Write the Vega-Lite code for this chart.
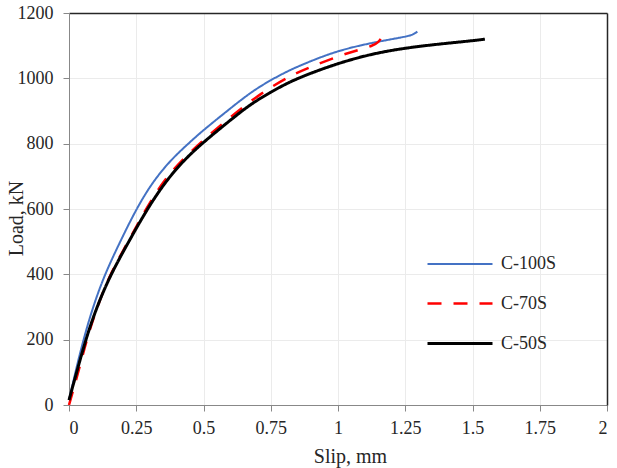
{
  "$schema": "https://vega.github.io/schema/vega-lite/v6.json",
  "description": "Load-slip curves for C-100S, C-70S and C-50S",
  "width": 538,
  "height": 392,
  "autosize": {"type": "none"},
  "padding": {"left": 69, "top": 13, "right": 10, "bottom": 63},
  "background": "white",
  "config": {
    "font": "Liberation Serif",
    "view": {"stroke": null},
    "axis": {
      "labelFont": "Liberation Serif",
      "titleFont": "Liberation Serif",
      "labelFontSize": 18,
      "titleFontSize": 20,
      "titleFontWeight": "normal",
      "labelColor": "#262626",
      "titleColor": "#262626",
      "domainColor": "#888888",
      "tickColor": "#888888",
      "gridColor": "#ebebeb",
      "tickSize": 6
    }
  },
  "data": {
    "values": [
      {"series": "C-100S", "slip": 0, "load": 15},
      {"series": "C-100S", "slip": 0.025, "load": 105},
      {"series": "C-100S", "slip": 0.052, "load": 195},
      {"series": "C-100S", "slip": 0.085, "load": 290},
      {"series": "C-100S", "slip": 0.13, "load": 395},
      {"series": "C-100S", "slip": 0.19, "load": 500},
      {"series": "C-100S", "slip": 0.25, "load": 600},
      {"series": "C-100S", "slip": 0.31, "load": 682},
      {"series": "C-100S", "slip": 0.38, "load": 752},
      {"series": "C-100S", "slip": 0.45, "load": 805},
      {"series": "C-100S", "slip": 0.5, "load": 842},
      {"series": "C-100S", "slip": 0.6, "load": 908},
      {"series": "C-100S", "slip": 0.675, "load": 957},
      {"series": "C-100S", "slip": 0.75, "load": 995},
      {"series": "C-100S", "slip": 0.822, "load": 1026},
      {"series": "C-100S", "slip": 0.896, "load": 1052},
      {"series": "C-100S", "slip": 1.0, "load": 1085},
      {"series": "C-100S", "slip": 1.131, "load": 1110},
      {"series": "C-100S", "slip": 1.25, "load": 1127},
      {"series": "C-100S", "slip": 1.28, "load": 1134},
      {"series": "C-100S", "slip": 1.295, "load": 1143},
      {"series": "C-70S", "slip": 0, "load": 0},
      {"series": "C-70S", "slip": 0.012, "load": 35},
      {"series": "C-70S", "slip": 0.036, "load": 105},
      {"series": "C-70S", "slip": 0.064, "load": 195},
      {"series": "C-70S", "slip": 0.102, "load": 295},
      {"series": "C-70S", "slip": 0.152, "load": 400},
      {"series": "C-70S", "slip": 0.22, "load": 500},
      {"series": "C-70S", "slip": 0.282, "load": 595},
      {"series": "C-70S", "slip": 0.35, "load": 685},
      {"series": "C-70S", "slip": 0.42, "load": 750},
      {"series": "C-70S", "slip": 0.5, "load": 812},
      {"series": "C-70S", "slip": 0.6, "load": 882},
      {"series": "C-70S", "slip": 0.714, "load": 955},
      {"series": "C-70S", "slip": 0.822, "load": 1008},
      {"series": "C-70S", "slip": 0.896, "load": 1034},
      {"series": "C-70S", "slip": 1.0, "load": 1068},
      {"series": "C-70S", "slip": 1.08, "load": 1088},
      {"series": "C-70S", "slip": 1.13, "load": 1100},
      {"series": "C-70S", "slip": 1.15, "load": 1110},
      {"series": "C-70S", "slip": 1.162, "load": 1125},
      {"series": "C-50S", "slip": 0, "load": 15},
      {"series": "C-50S", "slip": 0.03, "load": 105},
      {"series": "C-50S", "slip": 0.062, "load": 200},
      {"series": "C-50S", "slip": 0.103, "load": 300},
      {"series": "C-50S", "slip": 0.155, "load": 400},
      {"series": "C-50S", "slip": 0.222, "load": 500},
      {"series": "C-50S", "slip": 0.287, "load": 595},
      {"series": "C-50S", "slip": 0.355, "load": 680},
      {"series": "C-50S", "slip": 0.425, "load": 748},
      {"series": "C-50S", "slip": 0.5, "load": 805},
      {"series": "C-50S", "slip": 0.6, "load": 872},
      {"series": "C-50S", "slip": 0.673, "load": 920},
      {"series": "C-50S", "slip": 0.75, "load": 958},
      {"series": "C-50S", "slip": 0.822, "load": 990},
      {"series": "C-50S", "slip": 0.896, "load": 1015},
      {"series": "C-50S", "slip": 1.0, "load": 1046},
      {"series": "C-50S", "slip": 1.125, "load": 1075},
      {"series": "C-50S", "slip": 1.25, "load": 1093},
      {"series": "C-50S", "slip": 1.375, "load": 1105},
      {"series": "C-50S", "slip": 1.5, "load": 1115},
      {"series": "C-50S", "slip": 1.546, "load": 1120}
    ]
  },
  "resolve": {"axis": {"x": "independent", "y": "independent"}},
  "layer": [
    {
      "mark": {"type": "line", "interpolate": "basis"},
      "encoding": {
        "x": {
          "field": "slip",
          "type": "quantitative",
          "scale": {"domain": [0, 2], "nice": false},
          "axis": {
            "title": "Slip, mm",
            "values": [0, 0.25, 0.5, 0.75, 1, 1.25, 1.5, 1.75, 2],
            "labelExpr": "'' + datum.value",
            "labelPadding": 8,
            "titleX": 281,
            "titleY": 57,
            "titleBaseline": "alphabetic"
          }
        },
        "y": {
          "field": "load",
          "type": "quantitative",
          "scale": {"domain": [0, 1200], "nice": false},
          "axis": {
            "title": "Load, kN",
            "values": [0, 200, 400, 600, 800, 1000, 1200],
            "format": "d",
            "labelPadding": 10,
            "titleX": -47,
            "titleY": 205,
            "titleBaseline": "alphabetic"
          }
        },
        "color": {
          "field": "series",
          "type": "nominal",
          "scale": {"domain": ["C-100S", "C-70S", "C-50S"], "range": ["#4472C4", "#FF0000", "#000000"]},
          "legend": {
            "title": null,
            "orient": "none",
            "legendX": 372,
            "legendY": 225,
            "padding": 0,
            "symbolType": "M-1.6,0H1",
            "symbolSize": 2500,
            "rowPadding": 4,
            "labelFontSize": 18,
            "labelFont": "Liberation Serif",
            "labelColor": "#262626",
            "labelOffset": 7
          }
        },
        "strokeDash": {
          "field": "series",
          "type": "nominal",
          "scale": {"domain": ["C-100S", "C-70S", "C-50S"], "range": [[1, 0], [14, 12], [1, 0]]}
        },
        "strokeWidth": {
          "field": "series",
          "type": "nominal",
          "scale": {"domain": ["C-100S", "C-70S", "C-50S"], "range": [2, 3, 2]}
        }
      }
    },
    {
      "mark": {"type": "line", "opacity": 0},
      "encoding": {
        "x": {
          "field": "slip",
          "type": "quantitative",
          "axis": {"orient": "top", "title": null, "labels": false, "ticks": false, "grid": false, "domainColor": "#262626", "domainWidth": 1.5}
        },
        "y": {
          "field": "load",
          "type": "quantitative",
          "axis": {"orient": "right", "title": null, "labels": false, "ticks": false, "grid": false, "domainColor": "#262626", "domainWidth": 1.5}
        },
        "detail": {"field": "series"}
      }
    }
  ]
}
